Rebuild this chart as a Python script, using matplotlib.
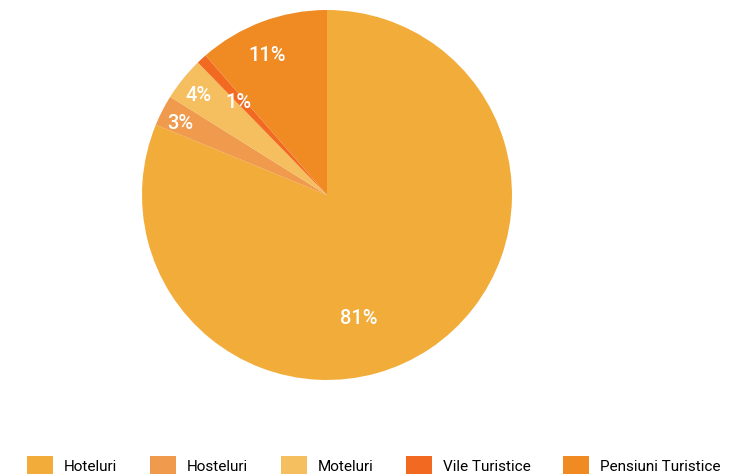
import numpy as np
import matplotlib.pyplot as plt
from matplotlib.patches import Patch

plt.rcParams['font.family'] = ['Roboto', 'DejaVu Sans']

labels = ['Hoteluri', 'Hosteluri', 'Moteluri', 'Vile Turistice', 'Pensiuni Turistice']
values = [81.2, 2.7, 3.8, 0.9, 11.4]
colors = ['#F2AC3A', '#EF9A4C', '#F5BE5E', '#F26A22', '#F08A23']
label_r = [0.67, 0.89, 0.89, 0.71, 0.84]
label_shift = [-19, 0, 0, 0, 2]  # degrees

fig = plt.figure(figsize=(7.29, 4.77), dpi=100)
ax = fig.add_axes([0.1948, 0.2013, 0.5075, 0.7757])
wedges, _ = ax.pie(values, colors=colors, startangle=90, counterclock=False,
                   wedgeprops=dict(linewidth=0))
ax.set_xlim(-1, 1)
ax.set_ylim(-1, 1)
ax.set_aspect('equal')

for w, v, r, s in zip(wedges, values, label_r, label_shift):
    ang = np.deg2rad((w.theta1 + w.theta2) / 2 + s)
    ax.text(r * np.cos(ang), r * np.sin(ang) - 0.015, '%.0f%%' % v, color='white',
            fontsize=14.5, fontweight='medium', ha='center', va='center')

handles = [Patch(facecolor=c, edgecolor='none') for c in colors]
fig.legend(handles, labels, loc='center', bbox_to_anchor=(0.513, 0.023), ncol=5,
           frameon=False, fontsize=11, handlelength=1.7, handleheight=1.5,
           handletextpad=0.7, columnspacing=2.15, borderaxespad=0)

fig.savefig('out.png', dpi=100)
